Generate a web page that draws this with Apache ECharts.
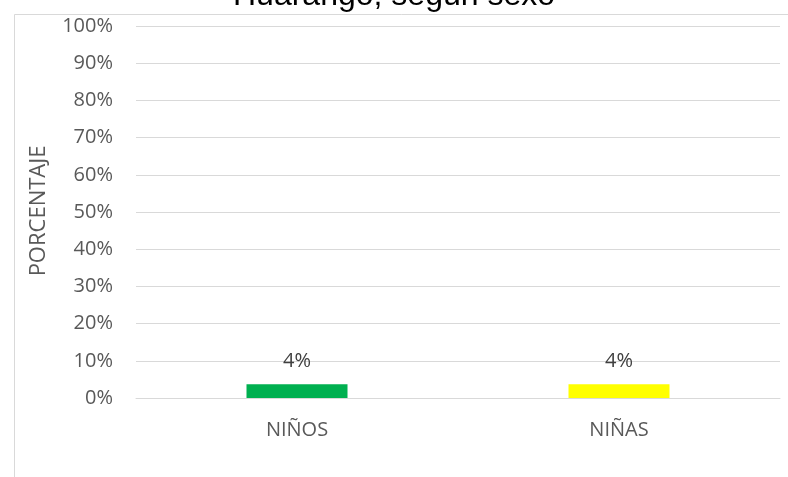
<!DOCTYPE html>
<html>
<head>
<meta charset="utf-8">
<script src="https://cdn.jsdelivr.net/npm/echarts@6/dist/echarts.min.js"></script>
<style>
  html, body { margin: 0; padding: 0; background: #fff; }
  #chart { width: 788px; height: 477px; }
</style>
</head>
<body>
<div id="chart"></div>
<script>
var categories = ['NIÑOS', 'NIÑAS'];
var values = [3.7, 3.7];
var barColors = ['#00b050', '#ffff00'];
var yTicks = [0, 10, 20, 30, 40, 50, 60, 70, 80, 90, 100];

var chart = echarts.init(document.getElementById('chart'));

chart.setOption({
    animation: false,
    backgroundColor: '#fff',
    title: {
        text: 'Huarango, según sexo',
        left: 'center',
        top: -25,
        textStyle: {
            fontFamily: 'Liberation Sans',
            fontSize: 32,
            fontWeight: 'normal',
            color: '#000'
        }
    },
    graphic: [{
        type: 'rect',
        left: 12,
        top: 12,
        shape: { width: 800, height: 500 },
        style: { fill: 'none', stroke: '#d9d9d9', lineWidth: 1 },
        silent: true
    }, {
        // axis title
        type: 'text',
        x: 39,
        y: 211,
        rotation: Math.PI / 2,
        style: {
            text: 'PORCENTAJE',
            fill: '#595959',
            font: '22px "Open Sans"',
            textAlign: 'center',
            textVerticalAlign: 'middle'
        },
        silent: true
    }],
    grid: { left: 136, right: 8, top: 26, bottom: 79 },
    xAxis: {
        type: 'category',
        data: categories,
        axisTick: { show: false },
        axisLine: { lineStyle: { color: '#d9d9d9' } },
        axisLabel: {
            margin: 22,
            color: '#595959',
            fontFamily: 'Open Sans',
            fontSize: 20
        }
    },
    yAxis: {
        type: 'value',
        min: yTicks[0],
        max: yTicks[yTicks.length - 1],
        interval: 10,
        axisLine: { show: false },
        axisTick: { show: false },
        splitLine: { lineStyle: { color: '#d9d9d9' } },
        axisLabel: {
            margin: 23,
            color: '#595959',
            fontFamily: 'Open Sans',
            fontSize: 20,
            formatter: '{value}%'
        }
    },
    series: [{
        type: 'bar',
        barWidth: 101,
        data: values.map(function (v, i) {
            return { value: v, itemStyle: { color: barColors[i] } };
        }),
        label: {
            show: true,
            position: 'top',
            distance: 13,
            color: '#404040',
            fontFamily: 'Open Sans',
            fontSize: 20,
            formatter: function (p) { return Math.round(p.value) + '%'; }
        }
    }]
});
</script>
</body>
</html>
